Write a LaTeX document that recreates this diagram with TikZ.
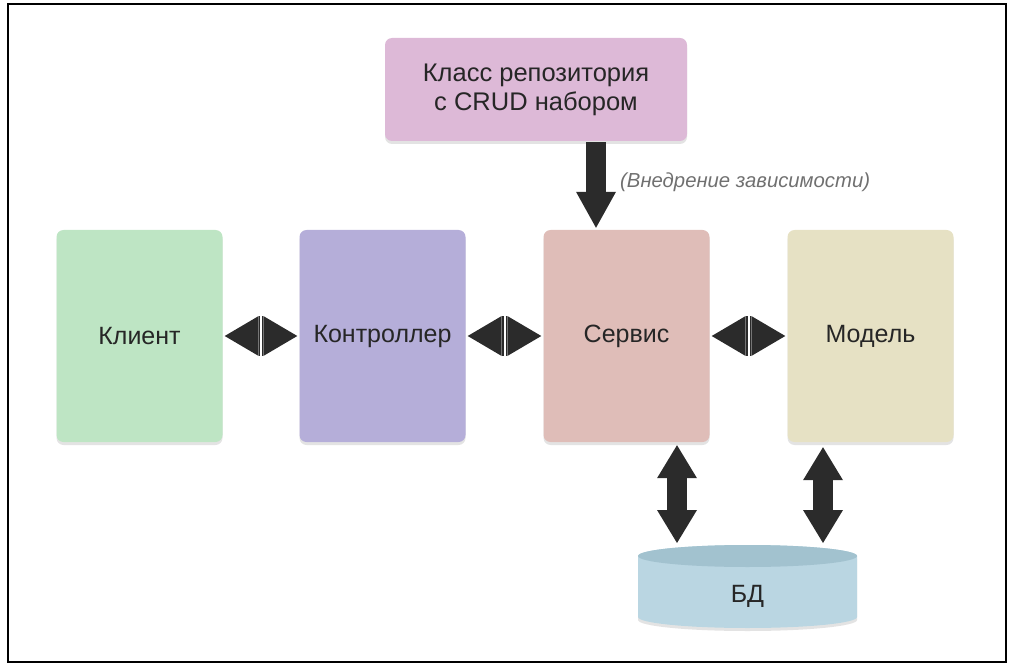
\documentclass[tikz,border=0pt]{standalone}
\usepackage{fontspec}
\setmainfont{Liberation Sans}
\usetikzlibrary{arrows.meta,calc,shadows}
\definecolor{cClient}{HTML}{BEE5C4}
\definecolor{cCtrl}{HTML}{B5AED9}
\definecolor{cServ}{HTML}{DFBDB8}
\definecolor{cModel}{HTML}{E6E1C4}
\definecolor{cRepo}{HTML}{DDB9D7}
\definecolor{cDbBody}{HTML}{BAD6E2}
\definecolor{cDbTop}{HTML}{A2C2CF}
\definecolor{txt}{HTML}{262626}
\definecolor{arr}{HTML}{2B2B2B}
\definecolor{note}{HTML}{707070}
\begin{document}
\begin{tikzpicture}[x=1pt,y=-1pt,
  shad/.style={drop shadow={shadow xshift=0pt,shadow yshift=-3pt,opacity=0.18,fill=black!60}},
  box/.style={rounded corners=7pt, draw=none, text=txt, font=\fontsize{25}{29}\selectfont,
    minimum width=166pt, minimum height=212pt, inner sep=0pt, shad},
  hdbl/.style={draw=arr, line width=40pt, shorten <=2pt, shorten >=2pt,
    {Triangle[width=40pt,length=34pt,line width=0pt]}-{Triangle[width=40pt,length=34pt,line width=0pt]}},
  vdbl/.style={draw=arr, line width=20pt,
    {Triangle[width=40pt,length=33pt,line width=0pt]}-{Triangle[width=40pt,length=33pt,line width=0pt]}},
  down/.style={draw=arr, line width=20pt, -{Triangle[width=40pt,length=36pt,line width=0pt]}},
  notch/.style={draw=white, line width=2pt}
]
\useasboundingbox (0,0) rectangle (1016,668);
\draw[line width=1.6pt] (8,4) rectangle (1006,662);

\node[box, fill=cClient] (client) at (139.5,336) {Клиент};
\node[box, fill=cCtrl] (ctrl) at (382.5,336) {Контроллер};
\node[box, fill=cServ] (serv) at (626.5,336) {Сервис};
\node[box, fill=cModel] (model) at (870.5,336) {Модель};
\node[box, fill=cRepo, minimum width=302pt, minimum height=103pt, align=center,
  font=\fontsize{25.5}{29}\selectfont] (repo) at (536,89.5) {Класс репозитория\\с CRUD набором};

% database cylinder
\fill[cDbBody, shad] (638,556) -- (638,617) arc[start angle=180,end angle=360,x radius=109.5pt,y radius=11pt]
  -- (857,556) arc[start angle=0,end angle=180,x radius=109.5pt,y radius=11pt] -- cycle;
\fill[cDbTop] (747.5,556) ellipse [x radius=109.5pt, y radius=11pt];
\node[text=txt, font=\fontsize{25}{29}\selectfont] (db) at (747.5,596) {БД};
\coordinate (dbA) at (677,543);
\coordinate (dbB) at (823,543);
\coordinate (injX) at (596,0);

% horizontal double arrows
\foreach \a/\b in {client/ctrl, ctrl/serv, serv/model}{
  \draw[hdbl] (\a.east) -- (\b.west);
  \draw[notch] ($(\a.east)!0.5!(\b.west)+(0,-22)$) -- ($(\a.east)!0.5!(\b.west)+(0,22)$);
}

% vertical double arrows to DB
\draw[vdbl] ($(serv.south -| dbA)+(0,3)$) -- (dbA);
\draw[vdbl] ($(model.south -| dbB)+(0,5)$) -- (dbB);

% dependency injection arrow
\draw[down] ($(repo.south -| injX)+(0,1)$) -- ($(serv.north -| injX)+(0,-2)$);
\node[anchor=west, inner sep=0pt, text=note, font=\fontsize{20.3}{24}\selectfont\itshape] (inj) at (620,182) {(Внедрение зависимости)};
\end{tikzpicture}
\end{document}
